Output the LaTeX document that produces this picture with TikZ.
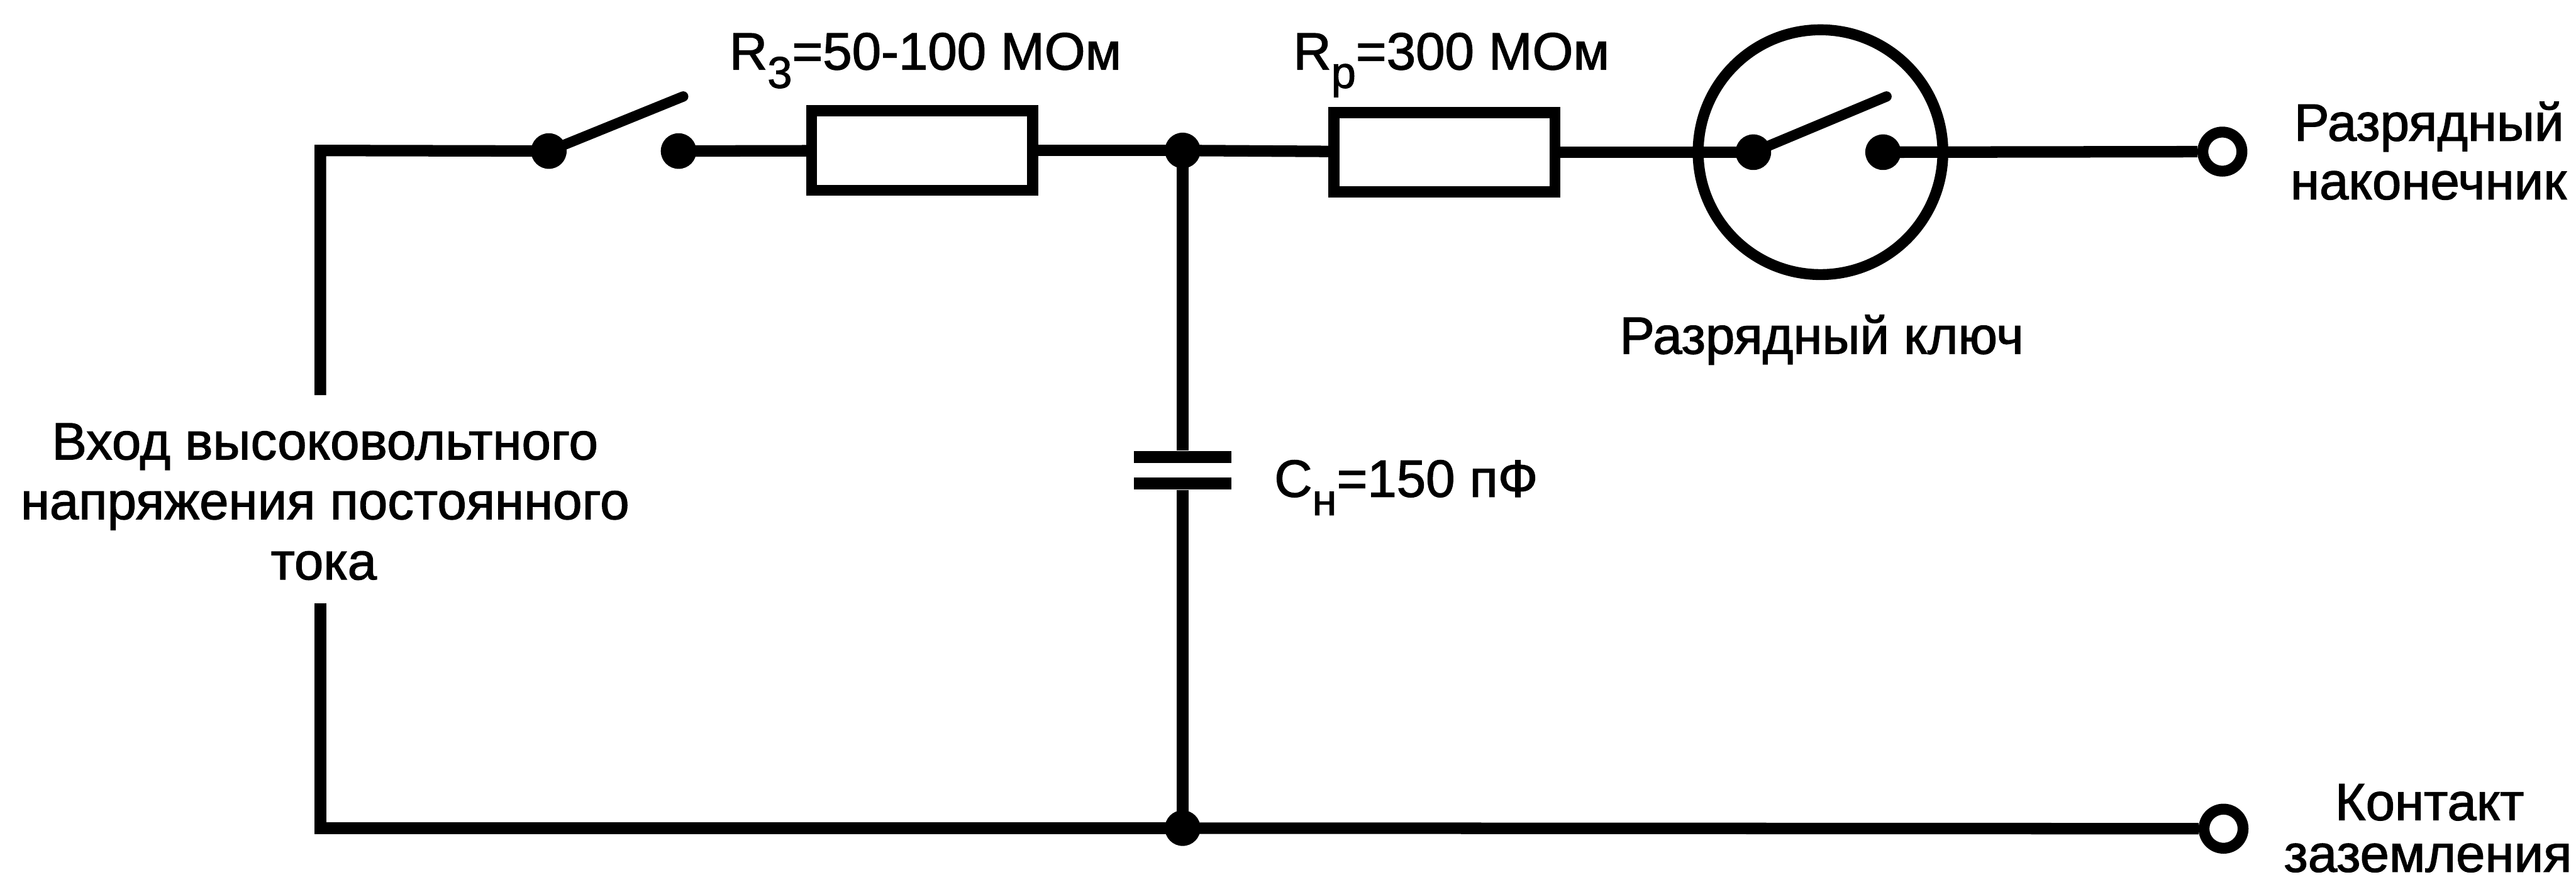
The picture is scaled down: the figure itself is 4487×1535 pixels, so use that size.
\documentclass[tikz,border=0pt]{standalone}
\usepackage{fontspec}
\setmainfont{Liberation Sans}[FakeBold=1.5]
\newcommand{\lbl}{\fontsize{26}{26}\selectfont}
\newcommand{\subs}[1]{\raisebox{-0.32cm}{\fontsize{22}{22}\selectfont #1}}
\tikzset{
  x=0.01cm,y=-0.01cm,
  wire/.style={line width=0.2cm,line cap=butt,line join=miter},
  lever/.style={line width=0.18cm,line cap=round},
  dot/.style={circle,fill=black,draw=none,inner sep=0pt,minimum size=0.62cm},
  resistor/.style={rectangle,draw,line width=0.19cm,fill=white,inner sep=0pt,outer sep=0pt,minimum width=3.85cm,minimum height=1.38cm},
  plate/.style={rectangle,fill=black,draw=none,inner sep=0pt,minimum width=1.7cm,minimum height=0.21cm},
  terminal/.style={circle,draw,line width=0.19cm,fill=white,inner sep=0pt,minimum size=0.68cm},
  keyring/.style={circle,draw,line width=0.19cm,inner sep=0pt,outer sep=0pt,minimum size=4.26cm},
  txt/.style={anchor=base,inner sep=0pt,font=\lbl,text=black},
}
\begin{document}
\begin{tikzpicture}
\useasboundingbox (0,0) rectangle (4487,1535);
% named points
\coordinate (tl) at (558,262);
\coordinate (bl) at (558,1442);
\coordinate (inTop) at (558,688);
\coordinate (inBot) at (558,1050);
\coordinate (lev1) at (1190,168);
\coordinate (lev2) at (3286,168);
% nodes
\node[dot] (s1a) at (956,263) {};
\node[dot] (s1b) at (1182,263) {};
\node[resistor] (r3) at (1606,262) {};
\node[dot] (jt) at (2060,262) {};
\node[resistor] (rp) at (2516,265) {};
\node[keyring] (key) at (3171,265) {};
\node[dot] (s2a) at (3054,265) {};
\node[dot] (s2b) at (3280,265) {};
\node[terminal] (t1) at (3871,264) {};
\node[terminal] (t2) at (3873,1443) {};
\node[dot] (jb) at (2060,1442) {};
\node[plate] (c1) at (2060,796) {};
\node[plate] (c2) at (2060,842) {};
% connectors
\draw[wire] (inTop) -- (tl) -- (s1a.center);
\draw[wire] (inBot) -- (bl) -- (jb.center);
\draw[wire] (jb.center) -- (t2);
\draw[wire] (s1b.center) -- (r3);
\draw[wire] (r3) -- (jt.center);
\draw[wire] (jt.center) -- (rp);
\draw[wire] (rp) -- (s2a.center);
\draw[wire] (s2b.center) -- (t1);
\draw[wire] (jt.center) -- (c1);
\draw[wire] (c2) -- (jb.center);
\draw[lever] (s1a.center) -- (lev1);
\draw[lever] (s2a.center) -- (lev2);
% labels
\node[txt,anchor=base west] (lr3) at (1270,121) {R\subs{3}=50-100 МОм};
\node[txt,anchor=base west] (lrp) at (2252,121) {R\subs{р}=300 МОм};
\node[txt,anchor=base west] (lc) at (2219,865) {C\subs{н}=150 пФ};
\node[txt] (lin1) at (566,800) {Вход высоковольтного};
\node[txt] (lin2) at (566,904) {напряжения постоянного};
\node[txt] (lin3) at (564,1009) {тока};
\node[txt] (lkey) at (3173,616) {Разрядный ключ};
\node[txt] (lt1a) at (4231,245) {Разрядный};
\node[txt] (lt1b) at (4230,347) {наконечник};
\node[txt] (lt2a) at (4232,1428) {Контакт};
\node[txt] (lt2b) at (4229,1518) {заземления};
\end{tikzpicture}
\end{document}
